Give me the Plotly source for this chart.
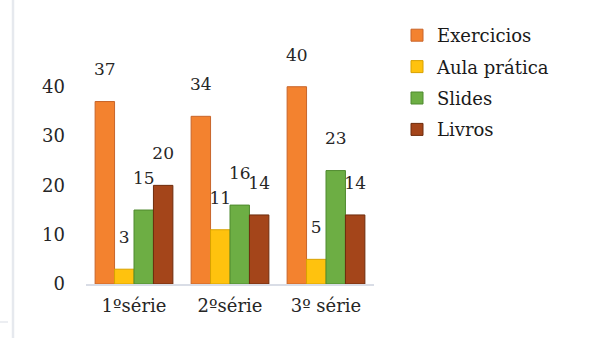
import plotly.graph_objects as go

categories = ["1ºsérie", "2ºsérie", "3º série"]
series_names = ["Exercicios", "Aula prática", "Slides", "Livros"]
exercicios = [37, 34, 40]
aula_pratica = [3, 11, 5]
slides = [15, 16, 23]
livros = [20, 14, 14]
y_ticks = [0, 10, 20, 30, 40]

values = [exercicios, aula_pratica, slides, livros]
colors = ["#F3822F", "#FFC20E", "#6DAE44", "#A4451A"]
line_colors = ["#C8652A", "#D9A200", "#4F8A2E", "#6E2C0C"]

FONT = "DejaVu Serif"

fig = go.Figure()
for i, (name, vals) in enumerate(zip(series_names, values)):
    fig.add_trace(go.Bar(
        x=categories, y=vals, name=name,
        marker=dict(color=colors[i], line=dict(color=line_colors[i], width=1)),
        text=[f"{v}<br><span style='font-size:4px'> </span>" for v in vals],
        textposition="outside", constraintext="none",
        textfont=dict(family=FONT, size=17, color="#262626"),
        cliponaxis=False, legendgroup=name,
    ))

W, H = 593, 338
L, R, T, B = 86, 219, 67, 54
pw = W - L - R
ph = H - T - B

fig.update_layout(
    width=W, height=H,
    margin=dict(l=L, r=R, t=T, b=B, pad=0),
    paper_bgcolor="white", plot_bgcolor="white",
    barmode="group", bargap=0.19, bargroupgap=0,
    font=dict(family=FONT, size=18, color="#262626"),
    showlegend=True,
    legend=dict(
        x=(397 - L) / pw, xanchor="left",
        y=(H - B - 17) / ph, yanchor="top",
        font=dict(family=FONT, size=18, color="#1a1a1a"),
        tracegroupgap=5, itemwidth=30,
        bgcolor="rgba(0,0,0,0)",
    ),
    xaxis=dict(
        showgrid=False, showline=True, linecolor="#D9DDE6", linewidth=1.5,
        ticks="", tickfont=dict(family=FONT, size=18, color="#262626"),
        ticklabelstandoff=5,
    ),
    yaxis=dict(
        range=[0, 44], tickvals=y_ticks, showgrid=False, showline=False,
        zeroline=False, ticks="",
        tickfont=dict(family=FONT, size=18, color="#262626"),
        ticklabelstandoff=20,
    ),
    shapes=[
        dict(type="line", xref="paper", yref="paper",
             x0=(13 - L) / pw, x1=(13 - L) / pw,
             y0=-(B) / ph, y1=(H - B) / ph,
             line=dict(color="#E6E9EE", width=2.5), layer="below"),
        dict(type="line", xref="paper", yref="paper",
             x0=-L / pw, x1=(8 - L) / pw,
             y0=-(322 - (H - B)) / ph, y1=-(322 - (H - B)) / ph,
             line=dict(color="#E6E9EE", width=1.5), layer="below"),
    ],
)

fig.write_html("out.html")
